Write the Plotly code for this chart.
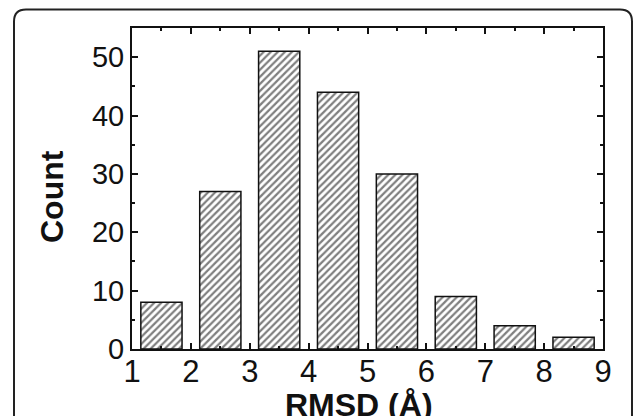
import plotly.graph_objects as go

bin_centers = [1.5, 2.5, 3.5, 4.5, 5.5, 6.5, 7.5, 8.5]
counts = [8, 27, 51, 44, 30, 9, 4, 2]
x_ticks = [1, 2, 3, 4, 5, 6, 7, 8, 9]
y_ticks = [0, 10, 20, 30, 40, 50]

W, H = 633, 416
L, R, T, B = 132, 30, 28, 67
pw, ph = W - L - R, H - T - B

def px(x):
    return (x - L) / pw

def py(y):
    return (H - B - y) / ph

fig = go.Figure()
fig.add_trace(go.Bar(
    x=bin_centers, y=counts, width=0.7,
    marker=dict(color="white",
                line=dict(color="#111", width=1.5),
                pattern=dict(shape="/", size=5, solidity=0.45,
                             fgcolor="#000", bgcolor="white", fillmode="overlay")),
    showlegend=False,
))

xfont = dict(family="Liberation Sans, Arial, sans-serif", size=31, color="#111")
yfont = dict(family="Liberation Sans, Arial, sans-serif", size=29, color="#111")

fig.update_xaxes(range=[1, 9], tickvals=x_ticks, ticktext=[str(v) for v in x_ticks],
                 ticks="inside", ticklen=6, tickwidth=1.5, tickcolor="#111",
                 minor=dict(dtick=0.5, tick0=0, ticks="inside", ticklen=3, tickwidth=1.5, tickcolor="#111"),
                 showline=True, linecolor="#111", linewidth=2, mirror="ticks",
                 showgrid=False, zeroline=False, tickfont=xfont, ticklabelstandoff=-6)
fig.update_yaxes(range=[0, 55], tickvals=y_ticks, ticktext=[str(v) for v in y_ticks],
                 ticks="inside", ticklen=6, tickwidth=1.5, tickcolor="#111",
                 minor=dict(dtick=5, tick0=0, ticks="inside", ticklen=3, tickwidth=1.5, tickcolor="#111"),
                 showline=True, linecolor="#111", linewidth=2, mirror="ticks",
                 showgrid=False, zeroline=False, tickfont=yfont)

title_font = dict(family="Liberation Sans, Arial, sans-serif", size=32, color="#111")
fig.add_annotation(text="<b>Count</b>", textangle=-90, x=px(52), y=py(197),
                   xref="paper", yref="paper", showarrow=False, font=title_font,
                   xanchor="center", yanchor="middle")
fig.add_annotation(text="<b>RMSD (Å)</b>", x=px(359), y=py(405),
                   xref="paper", yref="paper", showarrow=False, font=title_font,
                   xanchor="center", yanchor="middle")

# rounded outer frame
xl, xr = px(14), px(632)
yt, yb = py(9.5), py(440)
rx, ry = 12 / pw, 12 / ph
path = (f"M {xl},{yb} L {xl},{yt-ry} Q {xl},{yt} {xl+rx},{yt} "
        f"L {xr-rx},{yt} Q {xr},{yt} {xr},{yt-ry} L {xr},{yb}")
fig.add_shape(type="path", path=path, xref="paper", yref="paper",
              line=dict(color="#222", width=2))

fig.update_layout(width=W, height=H, margin=dict(l=L, r=R, t=T, b=B),
                  plot_bgcolor="white", paper_bgcolor="white", bargap=0.3)

fig.write_html("out.html", config={"displayModeBar": False},
               post_script="document.body.style.margin='0';document.body.style.overflow='hidden';")
